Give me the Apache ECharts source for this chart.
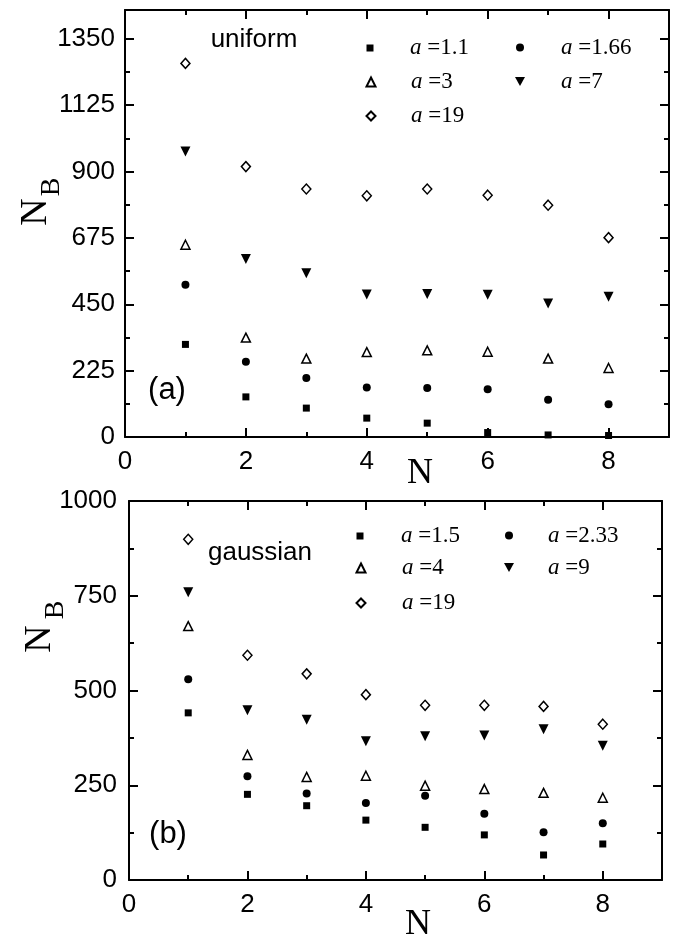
<!DOCTYPE html>
<html lang="en">

<head>
    <meta charset="UTF-8">
    <title>N_B vs N</title>
    <script src="https://cdn.jsdelivr.net/npm/echarts@6/dist/echarts.min.js"></script>
    <style>
        body {
            margin: 0;
            padding: 0;
            background: #fff;
        }
    </style>
</head>

<body>
    <div id="main" style="width: 678px;height:938px;"></div>
</body>
<script>
    // N values (x)
    var nValues = [1, 2, 3, 4, 5, 6, 7, 8];

    // (a) uniform
    var uniA11 = [314, 136, 98, 64, 47, 15, 7, 5];
    var uniA166 = [516, 255, 200, 168, 166, 162, 126, 111];
    var uniA3 = [652, 337, 266, 288, 294, 289, 266, 234];
    var uniA7 = [968, 604, 555, 483, 485, 482, 453, 476];
    var uniA19 = [1267, 917, 841, 818, 841, 820, 786, 676];

    // (b) gaussian
    var gauA15 = [441, 226, 196, 158, 139, 119, 66, 95];
    var gauA233 = [530, 274, 228, 203, 222, 175, 126, 150];
    var gauA4 = [670, 330, 272, 275, 249, 240, 230, 217];
    var gauA9 = [759, 448, 423, 366, 379, 381, 398, 354];
    var gauA19 = [899, 593, 544, 489, 461, 461, 458, 411];

    // tick labels
    var xTicks = [0, 2, 4, 6, 8];
    var yTicksTop = [0, 225, 450, 675, 900, 1125, 1350];
    var yTicksBottom = [0, 250, 500, 750, 1000];

    var labelOf = {
        u11: '1.1', u166: '1.66', u3: '3', u7: '7', u19: '19',
        g15: '1.5', g233: '2.33', g4: '4', g9: '9', g19: '19'
    };

    var sans = 'Liberation Sans';
    var serif = 'Liberation Serif';
    var downTri = 'path://M0,0 L10,0 L5,9 Z';

    function pairs(vals) {
        return vals.map(function(v, i) { return [nValues[i], v]; });
    }

    var filled = { color: '#000', opacity: 1 };
    var hollow = { color: '#fff', borderColor: '#000', borderWidth: 1.5, opacity: 1 };

    function scatter(id, grid, vals, symbol, size, style) {
        return {
            name: id,
            type: 'scatter',
            xAxisIndex: grid * 2,
            yAxisIndex: grid * 2,
            symbol: symbol,
            symbolSize: size,
            itemStyle: style,
            data: pairs(vals)
        };
    }

    // one legend per item so it sits like the original two-column key
    function legendItem(id, cx, cy, tx, size) {
        return {
            data: [id],
            left: cx - size / 2,
            top: cy - size / 2,
            padding: 0,
            itemWidth: size,
            itemHeight: size,
            selectedMode: false,
            formatter: function(name) {
                return '{i|a} =' + labelOf[name];
            },
            textStyle: {
                fontFamily: serif,
                fontSize: 23,
                color: '#000',
                padding: [0, 0, 0, tx - (cx + size / 2 + 5)],
                rich: {
                    i: { fontFamily: serif, fontStyle: 'italic', fontSize: 23, color: '#000' }
                }
            }
        };
    }

    var tickStyle = { color: '#000', width: 2 };

    function xAxes(grid, top) {
        return {
            gridIndex: grid,
            type: 'value',
            position: top ? 'top' : 'bottom',
            min: 0,
            max: 9,
            interval: 2,
            axisLine: { onZero: false, lineStyle: { color: '#000', width: 2 } },
            axisTick: { inside: true, length: 9, lineStyle: tickStyle },
            minorTick: { show: true, splitNumber: 2, length: 5, lineStyle: tickStyle },
            splitLine: { show: false },
            axisLabel: {
                show: !top,
                margin: 12,
                showMaxLabel: false,
                fontFamily: sans,
                fontSize: 26,
                color: '#000',
                formatter: function(v) { return xTicks.indexOf(v) >= 0 ? String(v) : ''; }
            }
        };
    }

    function yAxes(grid, right, max, interval, ticks, margin) {
        return {
            gridIndex: grid,
            type: 'value',
            position: right ? 'right' : 'left',
            min: 0,
            max: max,
            interval: interval,
            axisLine: { onZero: false, lineStyle: { color: '#000', width: 2 } },
            axisTick: { inside: true, length: 9, lineStyle: tickStyle },
            minorTick: { show: true, splitNumber: 2, length: 5, lineStyle: tickStyle },
            splitLine: { show: false },
            axisLabel: {
                show: !right,
                margin: margin,
                showMaxLabel: ticks.indexOf(max) >= 0,
                fontFamily: sans,
                fontSize: 26,
                color: '#000',
                formatter: function(v) { return ticks.indexOf(v) >= 0 ? String(v) : ''; }
            }
        };
    }

    function txt(x, y, text, size, family, rot) {
        return {
            type: 'text',
            x: x,
            y: y,
            rotation: rot || 0,
            style: {
                text: text,
                fontFamily: family,
                fontSize: size,
                fill: '#000',
                align: 'center',
                verticalAlign: 'middle'
            }
        };
    }

    var app = echarts.init(document.getElementById('main'));

    var option = {
        animation: false,
        grid: [
            { left: 125, right: 9, top: 10, bottom: 501 },
            { left: 129, right: 16, top: 501, bottom: 58 }
        ],
        xAxis: [xAxes(0, false), xAxes(0, true), xAxes(1, false), xAxes(1, true)],
        yAxis: [
            yAxes(0, false, 1448, 225, yTicksTop, 10),
            yAxes(0, true, 1448, 225, yTicksTop, 10),
            yAxes(1, false, 1000, 250, yTicksBottom, 12),
            yAxes(1, true, 1000, 250, yTicksBottom, 12)
        ],
        legend: [
            legendItem('u11', 370, 40, 410, 7),
            legendItem('u166', 520, 40, 561, 8),
            legendItem('u3', 370, 75, 410, 9),
            legendItem('u7', 520, 75, 561, 10),
            legendItem('u19', 370, 109, 410, 9),
            legendItem('g15', 360, 528, 401, 7),
            legendItem('g233', 509, 528, 548, 8),
            legendItem('g4', 360, 561, 401, 9),
            legendItem('g9', 509, 561, 548, 10),
            legendItem('g19', 360, 596, 401, 9)
        ],
        graphic: [
            txt(254, 40, 'uniform', 26, sans),
            txt(260, 553, 'gaussian', 26, sans),
            txt(167, 390, '(a)', 31, sans),
            txt(168, 834, '(b)', 31, sans),
            txt(36, 212, 'N', 38, serif, Math.PI / 2),
            txt(52, 187, 'B', 28, serif, Math.PI / 2),
            txt(40, 639, 'N', 38, serif, Math.PI / 2),
            txt(56, 610, 'B', 28, serif, Math.PI / 2),
            txt(420, 474, 'N', 36, serif),
            txt(418, 925, 'N', 36, serif)
        ],
        series: [
            scatter('u11', 0, uniA11, 'rect', 7, filled),
            scatter('u166', 0, uniA166, 'circle', 8, filled),
            scatter('u3', 0, uniA3, 'triangle', 9, hollow),
            scatter('u7', 0, uniA7, downTri, 10, filled),
            scatter('u19', 0, uniA19, 'diamond', [9, 10], hollow),
            scatter('g15', 1, gauA15, 'rect', 7, filled),
            scatter('g233', 1, gauA233, 'circle', 8, filled),
            scatter('g4', 1, gauA4, 'triangle', 9, hollow),
            scatter('g9', 1, gauA9, downTri, 10, filled),
            scatter('g19', 1, gauA19, 'diamond', [9, 10], hollow)
        ]
    };
    app.setOption(option);
</script>

</html>
